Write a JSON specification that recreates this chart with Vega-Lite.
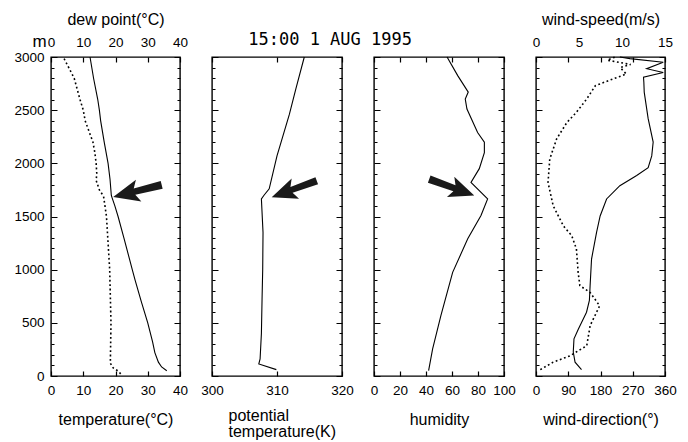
{
  "$schema": "https://vega.github.io/schema/vega-lite/v6.json",
  "padding": {"left": 13, "top": 10, "right": 10, "bottom": 5},
  "title": {"text": "15:00 1 AUG 1995", "font": "DejaVu Sans Mono", "fontSize": 17, "fontWeight": "normal", "color": "black", "anchor": "middle", "offset": -39, "dx": -15},
  "datasets": {
    "temp": [
      {"h": 3000, "t": 12.1}, {"h": 2800, "t": 13.2}, {"h": 2600, "t": 14.5}, {"h": 2500, "t": 15.0}, {"h": 2400, "t": 15.4},
      {"h": 2200, "t": 16.5}, {"h": 2000, "t": 17.7}, {"h": 1850, "t": 18.3}, {"h": 1700, "t": 18.7}, {"h": 1680, "t": 18.9},
      {"h": 1600, "t": 19.8}, {"h": 1500, "t": 20.8}, {"h": 1300, "t": 22.6}, {"h": 1000, "t": 25.2}, {"h": 900, "t": 26.1},
      {"h": 700, "t": 28.0}, {"h": 500, "t": 30.0}, {"h": 320, "t": 31.5}, {"h": 220, "t": 32.2}, {"h": 130, "t": 33.3},
      {"h": 85, "t": 34.3}, {"h": 50, "t": 35.9}
    ],
    "dew": [
      {"h": 3000, "td": 3.8}, {"h": 2800, "td": 7.2}, {"h": 2600, "td": 9.0}, {"h": 2500, "td": 10.0}, {"h": 2400, "td": 10.6},
      {"h": 2200, "td": 13.0}, {"h": 2100, "td": 13.6}, {"h": 2000, "td": 14.0}, {"h": 1900, "td": 14.2}, {"h": 1840, "td": 14.0},
      {"h": 1750, "td": 15.0}, {"h": 1690, "td": 16.3}, {"h": 1500, "td": 17.2}, {"h": 1000, "td": 18.2}, {"h": 500, "td": 18.6},
      {"h": 120, "td": 18.4}, {"h": 75, "td": 19.3}, {"h": 45, "td": 20.9}, {"h": 20, "td": 21.6}
    ],
    "theta": [
      {"h": 3000, "th": 314.2}, {"h": 2700, "th": 312.9}, {"h": 2460, "th": 311.9}, {"h": 2070, "th": 310.0}, {"h": 1760, "th": 308.8},
      {"h": 1700, "th": 308.0}, {"h": 1665, "th": 307.6}, {"h": 1350, "th": 307.85}, {"h": 1000, "th": 307.8}, {"h": 720, "th": 307.7},
      {"h": 400, "th": 307.6}, {"h": 160, "th": 307.4}, {"h": 113, "th": 307.2}, {"h": 60, "th": 309.9}
    ],
    "rh": [
      {"h": 3000, "rh": 56.2}, {"h": 2825, "rh": 64.4}, {"h": 2670, "rh": 72.5}, {"h": 2605, "rh": 70.2}, {"h": 2510, "rh": 71.5},
      {"h": 2290, "rh": 79.7}, {"h": 2200, "rh": 84.9}, {"h": 2100, "rh": 84.9}, {"h": 1950, "rh": 81.0}, {"h": 1820, "rh": 74.6},
      {"h": 1665, "rh": 87.4}, {"h": 1510, "rh": 82.3}, {"h": 1290, "rh": 72.1}, {"h": 975, "rh": 60.5}, {"h": 570, "rh": 51.5},
      {"h": 255, "rh": 45.1}, {"h": 50, "rh": 42.0}
    ],
    "wdir": [
      {"h": 3000, "wd": 234}, {"h": 2985, "wd": 262}, {"h": 2950, "wd": 355}, {"h": 2890, "wd": 309}, {"h": 2855, "wd": 355},
      {"h": 2810, "wd": 300}, {"h": 2760, "wd": 301}, {"h": 2670, "wd": 302}, {"h": 2420, "wd": 313}, {"h": 2200, "wd": 327},
      {"h": 2070, "wd": 323}, {"h": 1960, "wd": 313}, {"h": 1885, "wd": 281}, {"h": 1790, "wd": 234}, {"h": 1665, "wd": 197},
      {"h": 1505, "wd": 179}, {"h": 1350, "wd": 169}, {"h": 1100, "wd": 155}, {"h": 850, "wd": 151}, {"h": 710, "wd": 149},
      {"h": 600, "wd": 141}, {"h": 440, "wd": 118}, {"h": 350, "wd": 106}, {"h": 225, "wd": 104}, {"h": 130, "wd": 109},
      {"h": 60, "wd": 127}
    ],
    "wspd": [
      {"h": 3000, "ws": 9.2}, {"h": 2970, "ws": 8.3}, {"h": 2930, "ws": 11.0}, {"h": 2900, "ws": 9.8}, {"h": 2840, "ws": 10.5},
      {"h": 2795, "ws": 9.0}, {"h": 2730, "ws": 6.9}, {"h": 2605, "ws": 5.9}, {"h": 2480, "ws": 4.7}, {"h": 2385, "ws": 3.6},
      {"h": 2230, "ws": 2.4}, {"h": 2040, "ws": 1.6}, {"h": 1820, "ws": 1.4}, {"h": 1600, "ws": 2.0}, {"h": 1410, "ws": 3.2},
      {"h": 1320, "ws": 4.15}, {"h": 1195, "ws": 4.7}, {"h": 975, "ws": 4.9}, {"h": 850, "ws": 5.1}, {"h": 785, "ws": 6.3},
      {"h": 660, "ws": 7.4}, {"h": 475, "ws": 6.3}, {"h": 285, "ws": 5.9}, {"h": 190, "ws": 3.95}, {"h": 130, "ws": 2.0},
      {"h": 60, "ws": 0.5}
    ],
    "arrow1": [{"t": 26.8, "h": 1740}],
    "arrow2": [{"th": 312.65, "h": 1759}],
    "arrow3": [{"rh": 59.8, "h": 1775}]
  },
  "spacing": 32,
  "bounds": "flush",
  "hconcat": [
    {
      "width": 129, "height": 319,
      "resolve": {"axis": {"x": "independent", "y": "independent"}},
      "layer": [
        {
          "data": {"name": "temp"},
          "mark": {"type": "line"},
          "encoding": {
            "x": {"field": "t", "type": "quantitative", "scale": {"domain": [0, 40]}, "axis": {"orient": "bottom", "values": [0, 10, 20, 30, 40], "title": "temperature(°C)", "grid": true, "gridDash": [5, 309]}},
            "y": {"field": "h", "type": "quantitative", "scale": {"domain": [0, 3000]}, "axis": {"orient": "left", "values": [0, 500, 1000, 1500, 2000, 2500, 3000], "format": "d", "grid": true, "gridDash": [6, 117], "title": "m", "titleAngle": 0, "titleX": -12, "titleY": -11, "titleAlign": "center", "titleBaseline": "alphabetic", "titleFontSize": 17}},
            "order": {"field": "h", "type": "quantitative"}
          }
        },
        {
          "data": {"name": "dew"},
          "mark": {"type": "line", "strokeDash": [1.8, 2.6], "strokeWidth": 1.6},
          "encoding": {
            "x": {"field": "td", "type": "quantitative", "scale": {"domain": [0, 40]}, "axis": {"orient": "top", "values": [0, 10, 20, 30, 40], "title": "dew point(°C)", "labelPadding": 8, "titlePadding": 8}},
            "y": {"field": "h", "type": "quantitative", "scale": {"domain": [0, 3000]}, "axis": {"orient": "left", "values": [100, 200, 300, 400, 600, 700, 800, 900, 1100, 1200, 1300, 1400, 1600, 1700, 1800, 1900, 2100, 2200, 2300, 2400, 2600, 2700, 2800, 2900], "labels": false, "title": null, "grid": true, "gridDash": [3, 123]}},
            "order": {"field": "h", "type": "quantitative"}
          }
        },
        {
          "data": {"name": "arrow1"},
          "mark": {"type": "point", "shape": "M-1,0L0.05,-0.45L-0.12,-0.13L1,-0.16L1,0.16L-0.12,0.13L0.05,0.45Z", "size": 2500, "angle": 346, "filled": true, "color": "#1a1a1a", "opacity": 1},
          "encoding": {
            "x": {"field": "t", "type": "quantitative", "scale": {"domain": [0, 40]}, "axis": null},
            "y": {"field": "h", "type": "quantitative", "scale": {"domain": [0, 3000]}, "axis": null}
          }
        }
      ]
    },
    {
      "width": 130, "height": 319,
      "resolve": {"axis": {"x": "independent", "y": "independent"}},
      "layer": [
        {
          "data": {"name": "theta"},
          "mark": {"type": "line"},
          "encoding": {
            "x": {"field": "th", "type": "quantitative", "scale": {"domain": [300, 320], "zero": false}, "axis": {"orient": "bottom", "values": [300, 310, 320], "title": ["potential", "temperature(K)"], "titleAlign": "left", "titleX": 16, "titleLineHeight": 16, "titlePadding": 11, "grid": true, "gridDash": [5, 309]}},
            "y": {"field": "h", "type": "quantitative", "scale": {"domain": [0, 3000]}, "axis": {"orient": "left", "values": [0, 500, 1000, 1500, 2000, 2500, 3000], "labels": false, "title": null, "grid": true, "gridDash": [6, 118]}},
            "order": {"field": "h", "type": "quantitative"}
          }
        },
        {
          "data": {"name": "theta"},
          "mark": {"type": "line", "strokeOpacity": 0},
          "encoding": {
            "x": {"field": "th", "type": "quantitative", "scale": {"domain": [300, 320], "zero": false}, "axis": null},
            "y": {"field": "h", "type": "quantitative", "scale": {"domain": [0, 3000]}, "axis": {"orient": "left", "values": [100, 200, 300, 400, 600, 700, 800, 900, 1100, 1200, 1300, 1400, 1600, 1700, 1800, 1900, 2100, 2200, 2300, 2400, 2600, 2700, 2800, 2900], "labels": false, "title": null, "grid": true, "gridDash": [3, 124]}}
          }
        },
        {
          "data": {"name": "arrow2"},
          "mark": {"type": "point", "shape": "M-1,0L0.05,-0.45L-0.12,-0.13L1,-0.16L1,0.16L-0.12,0.13L0.05,0.45Z", "size": 2300, "angle": 340, "filled": true, "color": "#1a1a1a", "opacity": 1},
          "encoding": {
            "x": {"field": "th", "type": "quantitative", "scale": {"domain": [300, 320], "zero": false}, "axis": null},
            "y": {"field": "h", "type": "quantitative", "scale": {"domain": [0, 3000]}, "axis": null}
          }
        }
      ]
    },
    {
      "width": 130, "height": 319,
      "resolve": {"axis": {"x": "independent", "y": "independent"}},
      "layer": [
        {
          "data": {"name": "rh"},
          "mark": {"type": "line"},
          "encoding": {
            "x": {"field": "rh", "type": "quantitative", "scale": {"domain": [0, 100]}, "axis": {"orient": "bottom", "values": [0, 20, 40, 60, 80, 100], "title": "humidity", "grid": true, "gridDash": [5, 309]}},
            "y": {"field": "h", "type": "quantitative", "scale": {"domain": [0, 3000]}, "axis": {"orient": "left", "values": [0, 500, 1000, 1500, 2000, 2500, 3000], "labels": false, "title": null, "grid": true, "gridDash": [6, 118]}},
            "order": {"field": "h", "type": "quantitative"}
          }
        },
        {
          "data": {"name": "rh"},
          "mark": {"type": "line", "strokeOpacity": 0},
          "encoding": {
            "x": {"field": "rh", "type": "quantitative", "scale": {"domain": [0, 100]}, "axis": null},
            "y": {"field": "h", "type": "quantitative", "scale": {"domain": [0, 3000]}, "axis": {"orient": "left", "values": [100, 200, 300, 400, 600, 700, 800, 900, 1100, 1200, 1300, 1400, 1600, 1700, 1800, 1900, 2100, 2200, 2300, 2400, 2600, 2700, 2800, 2900], "labels": false, "title": null, "grid": true, "gridDash": [3, 124]}}
          }
        },
        {
          "data": {"name": "arrow3"},
          "mark": {"type": "point", "shape": "M-1,0L0.05,-0.45L-0.12,-0.13L1,-0.16L1,0.16L-0.12,0.13L0.05,0.45Z", "size": 2300, "angle": 200, "filled": true, "color": "#1a1a1a", "opacity": 1},
          "encoding": {
            "x": {"field": "rh", "type": "quantitative", "scale": {"domain": [0, 100]}, "axis": null},
            "y": {"field": "h", "type": "quantitative", "scale": {"domain": [0, 3000]}, "axis": null}
          }
        }
      ]
    },
    {
      "width": 129, "height": 319,
      "resolve": {"axis": {"x": "independent", "y": "independent"}, "scale": {"x": "independent"}},
      "layer": [
        {
          "data": {"name": "wdir"},
          "mark": {"type": "line"},
          "encoding": {
            "x": {"field": "wd", "type": "quantitative", "scale": {"domain": [0, 360]}, "axis": {"orient": "bottom", "values": [0, 90, 180, 270, 360], "title": "wind-direction(°)", "grid": true, "gridDash": [5, 309]}},
            "y": {"field": "h", "type": "quantitative", "scale": {"domain": [0, 3000]}, "axis": {"orient": "left", "values": [0, 500, 1000, 1500, 2000, 2500, 3000], "labels": false, "title": null, "grid": true, "gridDash": [6, 117]}},
            "order": {"field": "h", "type": "quantitative"}
          }
        },
        {
          "data": {"name": "wspd"},
          "mark": {"type": "line", "strokeDash": [1.8, 2.6], "strokeWidth": 1.6},
          "encoding": {
            "x": {"field": "ws", "type": "quantitative", "scale": {"domain": [0, 15]}, "axis": {"orient": "top", "values": [0, 5, 10, 15], "title": "wind-speed(m/s)", "labelPadding": 8, "titlePadding": 8}},
            "y": {"field": "h", "type": "quantitative", "scale": {"domain": [0, 3000]}, "axis": {"orient": "left", "values": [100, 200, 300, 400, 600, 700, 800, 900, 1100, 1200, 1300, 1400, 1600, 1700, 1800, 1900, 2100, 2200, 2300, 2400, 2600, 2700, 2800, 2900], "labels": false, "title": null, "grid": true, "gridDash": [3, 123]}},
            "order": {"field": "h", "type": "quantitative"}
          }
        }
      ]
    }
  ],
  "config": {
    "font": "Liberation Sans",
    "background": "white",
    "view": {"stroke": "black", "strokeWidth": 1.4},
    "line": {"color": "black", "strokeWidth": 1.1},
    "axis": {
      "grid": false, "gridColor": "black", "gridOpacity": 1, "gridWidth": 1.2,
      "domain": false, "ticks": false,
      "labelColor": "black", "titleColor": "black", "labelFont": "Liberation Sans", "titleFont": "Liberation Sans",
      "labelFontSize": 13.5, "titleFontSize": 16, "titleFontWeight": "normal",
      "labelPadding": 7, "titlePadding": 15, "labelFlush": false, "labelOverlap": false
    }
  }
}
